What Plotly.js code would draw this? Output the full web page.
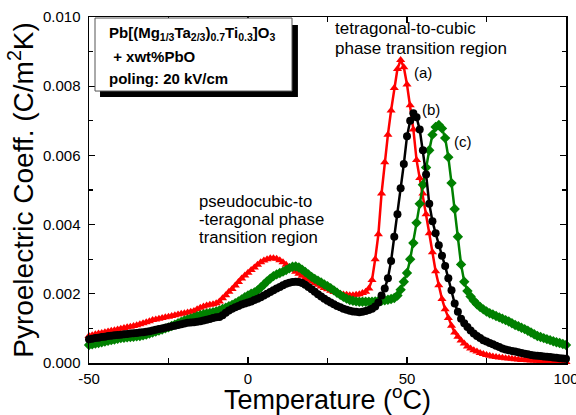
<!DOCTYPE html>
<html><head><meta charset="utf-8">
<script src="https://cdn.plot.ly/plotly-3.0.1.min.js"></script>
<style>html,body{margin:0;padding:0;background:#fff}#chart{width:576px;height:415px}</style>
</head><body><div id="chart"></div>
<script>
const temperature = [-50,-49,-48,-47,-46,-45,-44,-43,-42,-41,-40,-39,-38,-37,-36,-35,-34,-33,-32,-31,-30,-29,-28,-27,-26,-25,-24,-23,-22,-21,-20,-19,-18,-17,-16,-15,-14,-13,-12,-11,-10,-9,-8,-7,-6,-5,-4,-3,-2,-1,0,1,2,3,4,5,6,7,8,9,10,11,12,13,14,15,16,17,18,19,20,21,22,23,24,25,26,27,28,29,30,31,32,33,34,35,36,37,38,39,40,41,42,43,44,45,46,47,48,49,50,51,52,53,54,55,56,57,58,59,60,61,62,63,64,65,66,67,68,69,70,71,72,73,74,75,76,77,78,79,80,81,82,83,84,85,86,87,88,89,90,91,92,93,94,95,96,97,98,99,100];

// (a) red
const coeffA = [
0.78e-3,0.80e-3,0.83e-3,0.85e-3,0.87e-3,0.89e-3,0.91e-3,0.93e-3,0.95e-3,0.97e-3,
0.99e-3,1.01e-3,1.03e-3,1.05e-3,1.07e-3,1.09e-3,1.12e-3,1.15e-3,1.18e-3,1.21e-3,
1.24e-3,1.26e-3,1.28e-3,1.30e-3,1.32e-3,1.34e-3,1.36e-3,1.38e-3,1.40e-3,1.42e-3,
1.44e-3,1.46e-3,1.48e-3,1.50e-3,1.55e-3,1.60e-3,1.63e-3,1.66e-3,1.68e-3,1.70e-3,
1.73e-3,1.78e-3,1.87e-3,1.96e-3,2.06e-3,2.14e-3,2.24e-3,2.34e-3,2.44e-3,2.53e-3,
2.61e-3,2.69e-3,2.76e-3,2.84e-3,2.91e-3,2.96e-3,3.00e-3,3.03e-3,3.03e-3,3.01e-3,
2.97e-3,2.91e-3,2.84e-3,2.77e-3,2.70e-3,2.64e-3,2.58e-3,2.52e-3,2.46e-3,2.41e-3,
2.36e-3,2.31e-3,2.26e-3,2.21e-3,2.17e-3,2.13e-3,2.09e-3,2.05e-3,2.02e-3,2.00e-3,
1.98e-3,1.97e-3,1.96e-3,1.96e-3,1.97e-3,1.99e-3,2.02e-3,2.06e-3,2.15e-3,2.40e-3,
3.00e-3,3.72e-3,4.90e-3,5.80e-3,6.60e-3,7.30e-3,7.95e-3,8.50e-3,8.76e-3,8.55e-3,
8.05e-3,7.45e-3,6.75e-3,5.87e-3,5.35e-3,4.90e-3,4.30e-3,3.75e-3,3.20e-3,2.65e-3,
2.25e-3,1.85e-3,1.55e-3,1.30e-3,1.08e-3,0.88e-3,0.76e-3,0.65e-3,0.56e-3,0.48e-3,
0.42e-3,0.37e-3,0.33e-3,0.29e-3,0.26e-3,0.23e-3,0.21e-3,0.19e-3,0.17e-3,0.16e-3,
0.15e-3,0.14e-3,0.13e-3,0.12e-3,0.11e-3,0.10e-3,0.09e-3,0.085e-3,0.08e-3,0.075e-3,
0.07e-3,0.065e-3,0.06e-3,0.055e-3,0.05e-3,0.045e-3,0.04e-3,0.04e-3,0.035e-3,0.03e-3,0.03e-3];

// (b) black
const coeffB = [
0.69e-3,0.70e-3,0.72e-3,0.73e-3,0.75e-3,0.76e-3,0.78e-3,0.79e-3,0.80e-3,0.81e-3,
0.82e-3,0.83e-3,0.84e-3,0.85e-3,0.86e-3,0.87e-3,0.88e-3,0.89e-3,0.90e-3,0.92e-3,
0.94e-3,0.96e-3,0.98e-3,1.00e-3,1.02e-3,1.04e-3,1.06e-3,1.08e-3,1.10e-3,1.12e-3,
1.14e-3,1.16e-3,1.17e-3,1.18e-3,1.19e-3,1.21e-3,1.23e-3,1.25e-3,1.27e-3,1.30e-3,
1.32e-3,1.33e-3,1.38e-3,1.45e-3,1.52e-3,1.57e-3,1.61e-3,1.65e-3,1.69e-3,1.72e-3,
1.75e-3,1.78e-3,1.82e-3,1.86e-3,1.90e-3,1.95e-3,2.00e-3,2.05e-3,2.10e-3,2.15e-3,
2.20e-3,2.25e-3,2.29e-3,2.32e-3,2.34e-3,2.35e-3,2.34e-3,2.31e-3,2.26e-3,2.20e-3,
2.13e-3,2.06e-3,1.99e-3,1.92e-3,1.86e-3,1.80e-3,1.75e-3,1.70e-3,1.65e-3,1.61e-3,
1.57e-3,1.54e-3,1.51e-3,1.49e-3,1.48e-3,1.47e-3,1.48e-3,1.50e-3,1.53e-3,1.57e-3,
1.63e-3,1.75e-3,1.95e-3,2.15e-3,2.45e-3,2.95e-3,3.65e-3,4.30e-3,5.05e-3,5.75e-3,
6.55e-3,7.00e-3,7.22e-3,7.10e-3,6.75e-3,6.15e-3,5.45e-3,4.60e-3,4.10e-3,3.75e-3,
3.40e-3,3.10e-3,2.80e-3,2.45e-3,2.10e-3,1.72e-3,1.48e-3,1.28e-3,1.15e-3,1.04e-3,
0.94e-3,0.85e-3,0.78e-3,0.72e-3,0.66e-3,0.62e-3,0.58e-3,0.54e-3,0.50e-3,0.46e-3,
0.42e-3,0.39e-3,0.37e-3,0.35e-3,0.33e-3,0.31e-3,0.29e-3,0.27e-3,0.25e-3,0.23e-3,
0.22e-3,0.21e-3,0.20e-3,0.19e-3,0.18e-3,0.17e-3,0.16e-3,0.15e-3,0.14e-3,0.13e-3,0.12e-3];

// (c) green
const coeffC = [
0.52e-3,0.54e-3,0.56e-3,0.58e-3,0.60e-3,0.62e-3,0.64e-3,0.66e-3,0.68e-3,0.70e-3,
0.72e-3,0.73e-3,0.74e-3,0.75e-3,0.76e-3,0.77e-3,0.78e-3,0.80e-3,0.82e-3,0.85e-3,
0.88e-3,0.91e-3,0.94e-3,0.97e-3,1.00e-3,1.03e-3,1.07e-3,1.11e-3,1.15e-3,1.19e-3,
1.23e-3,1.26e-3,1.29e-3,1.32e-3,1.35e-3,1.38e-3,1.41e-3,1.43e-3,1.45e-3,1.47e-3,
1.49e-3,1.52e-3,1.56e-3,1.60e-3,1.64e-3,1.68e-3,1.73e-3,1.78e-3,1.84e-3,1.90e-3,
1.95e-3,2.00e-3,2.04e-3,2.10e-3,2.18e-3,2.27e-3,2.36e-3,2.44e-3,2.51e-3,2.56e-3,
2.60e-3,2.64e-3,2.69e-3,2.74e-3,2.78e-3,2.79e-3,2.76e-3,2.70e-3,2.63e-3,2.56e-3,
2.49e-3,2.43e-3,2.38e-3,2.33e-3,2.27e-3,2.22e-3,2.16e-3,2.10e-3,2.03e-3,1.97e-3,
1.91e-3,1.86e-3,1.82e-3,1.80e-3,1.78e-3,1.77e-3,1.77e-3,1.77e-3,1.77e-3,1.77e-3,
1.78e-3,1.79e-3,1.80e-3,1.81e-3,1.83e-3,1.85e-3,1.88e-3,1.95e-3,2.12e-3,2.35e-3,
2.60e-3,3.00e-3,3.47e-3,4.05e-3,4.60e-3,5.15e-3,5.65e-3,6.15e-3,6.60e-3,6.82e-3,
6.88e-3,6.78e-3,6.50e-3,5.95e-3,5.20e-3,4.45e-3,3.65e-3,2.85e-3,2.35e-3,2.08e-3,
1.92e-3,1.80e-3,1.70e-3,1.62e-3,1.55e-3,1.49e-3,1.44e-3,1.40e-3,1.36e-3,1.32e-3,
1.28e-3,1.24e-3,1.20e-3,1.15e-3,1.10e-3,1.06e-3,1.02e-3,0.98e-3,0.93e-3,0.88e-3,
0.83e-3,0.78e-3,0.75e-3,0.72e-3,0.69e-3,0.66e-3,0.63e-3,0.60e-3,0.58e-3,0.55e-3,0.52e-3];

const seriesLabels = ['(a)', '(b)', '(c)'];
const xTickVals = [-50, 0, 50, 100];
const xTickText = ['-50', '0', '50', '100'];
const yTickVals = [0, 0.002, 0.004, 0.006, 0.008, 0.010];
const yTickText = ['0.000', '0.002', '0.004', '0.006', '0.008', '0.010'];

const FONT = 'Liberation Sans, Arial, Helvetica, sans-serif';

function trace(y, color, symbol, size, name) {
  return {
    x: temperature, y: y, name: name, type: 'scatter', mode: 'lines+markers',
    line: {color: color, width: 2.5},
    marker: {color: color, symbol: symbol, size: size},
    cliponaxis: false, showlegend: false
  };
}

const data = [
  trace(coeffA, '#ff0000', 'triangle-up', 8, seriesLabels[0]),
  trace(coeffC, '#008000', 'diamond', 8, seriesLabels[2]),
  trace(coeffB, '#000000', 'circle', 8, seriesLabels[1])
];

const axisCommon = {
  showline: true, linecolor: '#000', linewidth: 1.5, mirror: 'ticks',
  ticks: 'inside', ticklen: 6, tickwidth: 1.2, tickcolor: '#000',
  showgrid: false, zeroline: false, ticklabeloverflow: 'allow',
  tickfont: {family: FONT, size: 15, color: '#000'}
};

const layout = {
  width: 576, height: 415,
  margin: {l: 89, r: 10, t: 17, b: 52},
  paper_bgcolor: '#fff', plot_bgcolor: '#fff',
  font: {family: FONT, color: '#000'},
  xaxis: Object.assign({}, axisCommon, {
    range: [-50, 100], tickmode: 'array', tickvals: xTickVals, ticktext: xTickText,
    ticklabelstandoff: 1,
    minor: {dtick: 25, ticks: 'inside', ticklen: 5, tickcolor: '#000', tickwidth: 1.2},
    title: {text: 'Temperature (<sup>o</sup>C)', font: {family: FONT, size: 27}, standoff: 4}
  }),
  yaxis: Object.assign({}, axisCommon, {
    range: [0, 0.010], tickmode: 'array', tickvals: yTickVals, ticktext: yTickText,
    ticklabelstandoff: 4,
    minor: {dtick: 0.001, ticks: 'inside', ticklen: 4, tickcolor: '#000', tickwidth: 1.2},
    title: {text: 'Pyroelectric Coeff. (C/m<sup>2</sup>K)', font: {family: FONT, size: 28}, standoff: 1}
  }),
  shapes: [
    {type: 'rect', xref: 'paper', yref: 'paper', x0: 0.0231, x1: 0.438, y0: 0.769, y1: 0.977,
     fillcolor: '#000', line: {width: 0}},
    {type: 'rect', xref: 'paper', yref: 'paper', x0: 0.0126, x1: 0.4256, y0: 0.786, y1: 0.997,
     fillcolor: '#fff', line: {color: '#555', width: 1}}
  ],
  annotations: [
    {xref: 'paper', yref: 'paper', x: 0.0377, y: 0.953, xanchor: 'left', yanchor: 'middle', showarrow: false,
     text: '<b>Pb[(Mg<sub>1/3</sub>Ta<sub>2/3</sub>)<sub>0.7</sub>Ti<sub>0.3</sub>]O<sub>3</sub></b>',
     font: {family: FONT, size: 15, color: '#000'}},
    {xref: 'paper', yref: 'paper', x: 0.0377, y: 0.887, xanchor: 'left', yanchor: 'middle', showarrow: false,
     text: '<b> + xwt%PbO</b>', font: {family: FONT, size: 15, color: '#000'}},
    {xref: 'paper', yref: 'paper', x: 0.0377, y: 0.821, xanchor: 'left', yanchor: 'middle', showarrow: false,
     text: '<b>poling: 20 kV/cm</b>', font: {family: FONT, size: 15, color: '#000'}},
    {xref: 'paper', yref: 'paper', x: 0.5115, y: 0.968, xanchor: 'left', yanchor: 'middle', showarrow: false,
     text: 'tetragonal-to-cubic', font: {family: FONT, size: 17, color: '#000'}},
    {xref: 'paper', yref: 'paper', x: 0.5115, y: 0.908, xanchor: 'left', yanchor: 'middle', showarrow: false,
     text: 'phase transition region', font: {family: FONT, size: 17, color: '#000'}},
    {xref: 'paper', yref: 'paper', x: 0.2264, y: 0.468, xanchor: 'left', yanchor: 'middle', showarrow: false,
     text: 'pseudocubic-to', font: {family: FONT, size: 16.7, color: '#000'}},
    {xref: 'paper', yref: 'paper', x: 0.2264, y: 0.416, xanchor: 'left', yanchor: 'middle', showarrow: false,
     text: '-teragonal phase', font: {family: FONT, size: 16.7, color: '#000'}},
    {xref: 'paper', yref: 'paper', x: 0.2264, y: 0.364, xanchor: 'left', yanchor: 'middle', showarrow: false,
     text: 'transition region', font: {family: FONT, size: 16.7, color: '#000'}},
    {x: 55.0, y: 0.00841, showarrow: false, text: seriesLabels[0], font: {family: FONT, size: 15, color: '#000'}},
    {x: 57.5, y: 0.00734, showarrow: false, text: seriesLabels[1], font: {family: FONT, size: 15, color: '#000'}},
    {x: 67.6, y: 0.00639, showarrow: false, text: seriesLabels[2], font: {family: FONT, size: 15, color: '#000'}}
  ]
};

Plotly.newPlot('chart', data, layout, {displayModeBar: false, staticPlot: true});
</script>
</body></html>
